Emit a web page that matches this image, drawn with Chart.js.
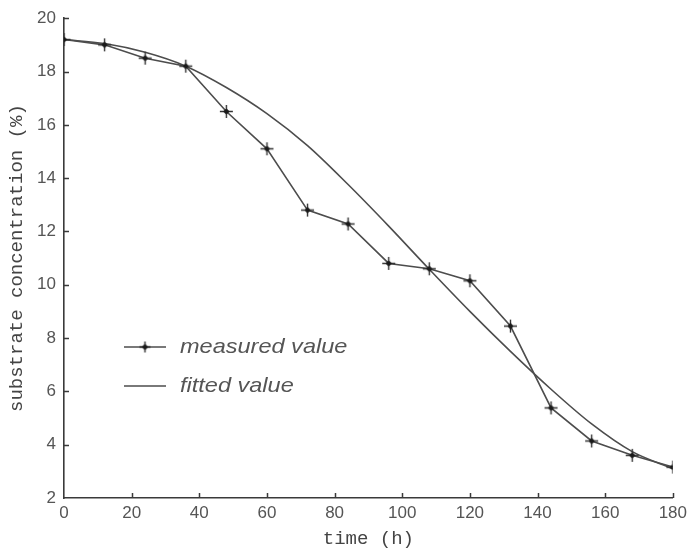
<!DOCTYPE html>
<html>
<head>
<meta charset="utf-8">
<script src="https://cdn.jsdelivr.net/npm/chart.js@4/dist/chart.umd.min.js"></script>
<style>
html,body{margin:0;padding:0;background:#fff;}
#wrap{width:692px;height:550px;}
</style>
</head>
<body>
<div id="wrap"><canvas id="c" width="692" height="550"></canvas></div>
<script>
const timeH = [0, 12, 24, 36, 48, 60, 72, 84, 96, 108, 120, 132, 144, 156, 168, 180];
const measuredValue = [19.2, 19.0, 18.5, 18.2, 16.5, 15.1, 12.8, 12.28, 10.8, 10.6, 10.15, 8.45, 5.38, 4.14, 3.6, 3.16];
const fittedValue = [19.2, 19.05, 18.72, 18.2, 17.4, 16.42, 15.22, 13.76, 12.2, 10.58, 9.0, 7.5, 6.08, 4.78, 3.74, 3.1];
const xTicks = [0, 20, 40, 60, 80, 100, 120, 140, 160, 180];
const yTicks = [2, 4, 6, 8, 10, 12, 14, 16, 18, 20];
const legendLabels = ['measured value', 'fitted value'];
const axisTitles = { x: 'time (h)', y: 'substrate concentration (%)' };

const lineColor = '#4d4d4d';
const axisColor = '#3a3a3a';
const textColor = '#555';

const toPts = (xs, ys) => xs.map((x, i) => ({ x: x, y: ys[i] }));

function makeMarker(arm) {
  const s = arm * 2 + 3;
  const cv = document.createElement('canvas');
  cv.width = s; cv.height = s;
  const g = cv.getContext('2d');
  const c = s / 2;
  g.strokeStyle = '#333';
  g.lineWidth = 1.4;
  g.beginPath();
  g.moveTo(c, 1); g.lineTo(c, s - 1);
  g.moveTo(1, c); g.lineTo(s - 1, c);
  g.stroke();
  g.fillStyle = '#1a1a1a';
  g.beginPath();
  g.moveTo(c, c - 3.2); g.lineTo(c + 3.2, c); g.lineTo(c, c + 3.2); g.lineTo(c - 3.2, c);
  g.closePath();
  g.fill();
  return cv;
}
const marker = makeMarker(6);
const legendMarker = makeMarker(5);

const inwardTicks = {
  id: 'inwardTicks',
  afterDraw(chart) {
    const ctx = chart.ctx;
    const xs = chart.scales.x, ys = chart.scales.y;
    const L = 5;
    ctx.save();
    ctx.strokeStyle = axisColor;
    ctx.lineWidth = 1.5;
    ctx.beginPath();
    xTicks.forEach(v => {
      if (v === 0) return;
      const px = Math.round(xs.getPixelForValue(v)) + 0.5;
      ctx.moveTo(px, ys.bottom);
      ctx.lineTo(px, ys.bottom - L);
    });
    yTicks.forEach(v => {
      if (v === 2) return;
      const py = Math.round(ys.getPixelForValue(v)) + 0.5;
      ctx.moveTo(xs.left, py);
      ctx.lineTo(xs.left + L, py);
    });
    ctx.stroke();
    ctx.restore();
  }
};

const insideLegend = {
  id: 'insideLegend',
  afterDatasetsDraw(chart) {
    const ctx = chart.ctx;
    const rows = [347, 386];
    const x0 = 124, x1 = 166, tx = 180;
    ctx.save();
    ctx.textBaseline = 'middle';
    ctx.textAlign = 'left';
    rows.forEach((y, i) => {
      const ds = chart.data.datasets[i];
      ctx.strokeStyle = ds.borderColor;
      ctx.lineWidth = 1.6;
      ctx.beginPath();
      ctx.moveTo(x0, y);
      ctx.lineTo(x1, y);
      ctx.stroke();
      if (i === 0) {
        Chart.helpers.drawPoint(ctx, { pointStyle: legendMarker, radius: 5, borderWidth: 0 }, (x0 + x1) / 2, y);
      }
      ctx.save();
      ctx.translate(tx, y);
      ctx.scale(1.12, 1);
      ctx.font = 'italic 21px "Liberation Sans", Arial, sans-serif';
      ctx.fillStyle = textColor;
      ctx.fillText(legendLabels[i], 0, 0);
      ctx.restore();
    });
    ctx.restore();
  }
};

new Chart(document.getElementById('c'), {
  type: 'line',
  data: {
    datasets: [
      {
        label: legendLabels[0],
        data: toPts(timeH, measuredValue),
        borderColor: lineColor,
        backgroundColor: lineColor,
        borderWidth: 1.6,
        pointStyle: marker,
        pointRadius: 6,
        tension: 0,
        fill: false
      },
      {
        label: legendLabels[1],
        data: toPts(timeH, fittedValue),
        borderColor: lineColor,
        backgroundColor: lineColor,
        borderWidth: 1.6,
        pointRadius: 0,
        cubicInterpolationMode: 'monotone',
        fill: false
      }
    ]
  },
  options: {
    responsive: false,
    animation: false,
    devicePixelRatio: 1,
    layout: { padding: { top: 18, right: 16, left: 0, bottom: 0 } },
    plugins: {
      legend: { display: false },
      tooltip: { enabled: false }
    },
    scales: {
      x: {
        type: 'linear',
        min: 0, max: 180,
        afterBuildTicks: s => { s.ticks = xTicks.map(v => ({ value: v })); },
        afterFit: s => { s.height = 52; },
        grid: { display: true, drawOnChartArea: false, drawTicks: false },
        border: { display: true, color: axisColor, width: 1.6 },
        ticks: {
          padding: 5,
          color: textColor,
          font: { family: '"Liberation Sans", Arial, sans-serif', size: 17 }
        },
        title: {
          display: true,
          text: axisTitles.x,
          color: '#444',
          font: { family: '"Liberation Mono", "DejaVu Sans Mono", monospace', size: 19 },
          padding: { top: 0, bottom: 0 }
        }
      },
      y: {
        type: 'linear',
        min: 2, max: 20,
        afterBuildTicks: s => { s.ticks = yTicks.map(v => ({ value: v })); },
        afterFit: s => { s.width = 64; },
        grid: { display: true, drawOnChartArea: false, drawTicks: false },
        border: { display: true, color: axisColor, width: 1.6 },
        ticks: {
          padding: 8,
          color: textColor,
          font: { family: '"Liberation Sans", Arial, sans-serif', size: 17 }
        },
        title: {
          display: true,
          text: axisTitles.y,
          color: '#444',
          font: { family: '"Liberation Mono", "DejaVu Sans Mono", monospace', size: 19 },
          padding: { top: 6, bottom: 0 }
        }
      }
    }
  },
  plugins: [inwardTicks, insideLegend]
});
</script>
</body>
</html>
